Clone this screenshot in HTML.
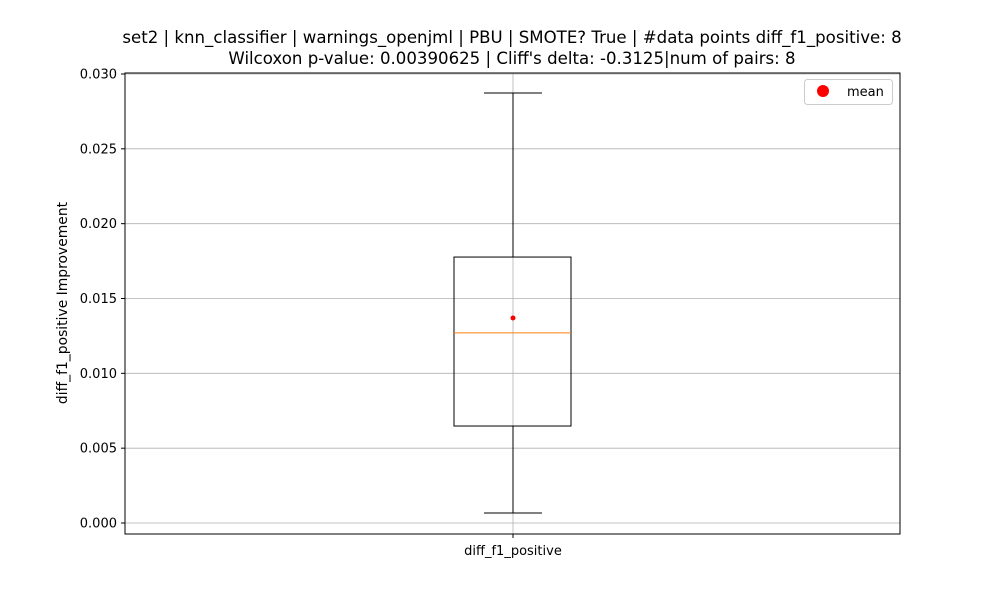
<!DOCTYPE html>
<html><head><meta charset="utf-8"><style>
body{margin:0;background:#fff;font-family:"Liberation Sans","DejaVu Sans",sans-serif}
</style></head><body>
<svg id="chart" width="1000" height="600" xmlns="http://www.w3.org/2000/svg" font-family="DejaVu Sans, Liberation Sans, sans-serif">
<text x="512" y="43" text-anchor="middle" font-size="16.6">set2 | knn_classifier | warnings_openjml | PBU | SMOTE? True | #data points diff_f1_positive: 8</text>
<text x="512" y="64" text-anchor="middle" font-size="16.6">Wilcoxon p-value: 0.00390625 | Cliff's delta: -0.3125|num of pairs: 8</text>
<g id="grid"></g>
<g id="yticks"></g>
<g id="box"></g>
<rect x="125" y="73" width="775" height="461" fill="none" stroke="#000" stroke-width="1"/>
<text x="67" y="303" text-anchor="middle" font-size="13.9" transform="rotate(-90 67 303)">diff_f1_positive Improvement</text>
<g>
<rect x="804.5" y="79.5" width="88" height="25" rx="3" fill="#fff" stroke="#ccc"/>
<circle cx="823" cy="91" r="6" fill="red"/>
<text x="847" y="96" font-size="13">mean</text>
</g>
</svg>
<script>
const categories=["diff_f1_positive"];
const whiskerLow=[0.00067];
const q1=[0.00648];
const median=[0.0127];
const q3=[0.01777];
const whiskerHigh=[0.02873];
const means=[0.0137];
const yTicks=[0,0.005,0.01,0.015,0.02,0.025,0.03];
const yTickLabels=["0.000","0.005","0.010","0.015","0.020","0.025","0.030"];
const NS="http://www.w3.org/2000/svg";
const y=v=>523-v*14966.7;
const x=i=>513+i*100;
function mk(t,a,p){const e=document.createElementNS(NS,t);for(const k in a)e.setAttribute(k,a[k]);p.appendChild(e);return e;}
const grid=document.getElementById('grid'),yt=document.getElementById('yticks'),box=document.getElementById('box');
yTicks.forEach((v,i)=>{
 const g=mk('line',{x1:125,x2:900,y1:y(v),y2:y(v),stroke:'#b0b0b0','stroke-width':0.8},grid);
 
 
 const t=mk('line',{x1:121,x2:125,y1:y(v),y2:y(v),stroke:'#000'},yt);
 
 
 const l=mk('text',{x:117,y:y(v)+4.5,'text-anchor':'end','font-size':13},yt);
 l.textContent=yTickLabels[i];
 
 
});
categories.forEach((c,i)=>{
 const cx=x(i);
 const vg=mk('line',{x1:cx,x2:cx,y1:73,y2:534,stroke:'#b0b0b0','stroke-width':0.8},grid);
 
 
 const xt=mk('line',{x1:cx,x2:cx,y1:534,y2:538,stroke:'#000'},yt);
 
 
 const xl=mk('text',{x:cx,y:555,'text-anchor':'middle','font-size':13},yt);
 xl.textContent=c;
 
 
 const w1=mk('line',{x1:cx,x2:cx,y1:y(q3[i]),y2:y(whiskerHigh[i]),stroke:'#000'},box);
 
 
 const w2=mk('line',{x1:cx,x2:cx,y1:y(q1[i]),y2:y(whiskerLow[i]),stroke:'#000'},box);
 
 
 const c1=mk('line',{x1:cx-29,x2:cx+29,y1:y(whiskerHigh[i]),y2:y(whiskerHigh[i]),stroke:'#000'},box);
 
 
 const c2=mk('line',{x1:cx-29,x2:cx+29,y1:y(whiskerLow[i]),y2:y(whiskerLow[i]),stroke:'#000'},box);
 
 
 const r=mk('rect',{x:cx-59,y:y(q3[i]),width:117,height:y(q1[i])-y(q3[i]),fill:'none',stroke:'#000'},box);
 
 
 const m=mk('line',{x1:cx-59,x2:cx+58,y1:y(median[i]),y2:y(median[i]),stroke:'#ff7f0e'},box);
 
 
 const mp=mk('circle',{cx:cx,cy:y(means[i]),r:2.5,fill:'red'},box);
 
 
});
</script>
</body></html>
